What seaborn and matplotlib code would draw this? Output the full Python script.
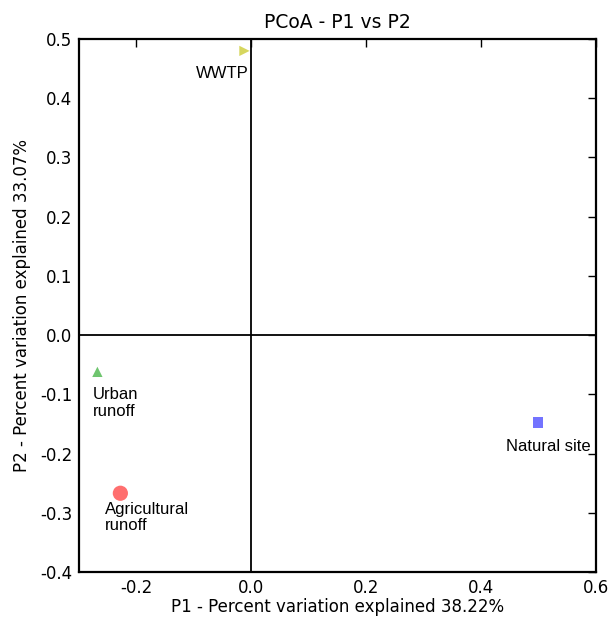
import pandas as pd
import matplotlib
matplotlib.use("Agg")
import matplotlib.pyplot as plt
import seaborn as sns

# Sample coordinates on the first two principal coordinates
sites = ["WWTP", "Urban runoff", "Agricultural runoff", "Natural site"]
labels = ["WWTP", "Urban\nrunoff", "Agricultural\nrunoff", "Natural site"]
p1 = [-0.012, -0.268, -0.228, 0.499]
p2 = [0.480, -0.062, -0.267, -0.147]

x_ticks = [-0.2, 0.0, 0.2, 0.4, 0.6]
y_ticks = [-0.4, -0.3, -0.2, -0.1, 0.0, 0.1, 0.2, 0.3, 0.4, 0.5]

df = pd.DataFrame({"site": sites, "label": labels, "P1": p1, "P2": p2})

# marker styling per site
palette = {"WWTP": "#d2d24c", "Urban runoff": "#5fbf5f",
           "Agricultural runoff": "#ff5f5f", "Natural site": "#6464ff"}
markers = {"WWTP": ">", "Urban runoff": "^",
           "Agricultural runoff": "o", "Natural site": "s"}
sizes = {"WWTP": 55, "Urban runoff": 55,
         "Agricultural runoff": 120, "Natural site": 60}
# label anchor offsets (points) and alignment
offsets = {"WWTP": (3, -11, "right"), "Urban runoff": (-3, -11, "left"),
           "Agricultural runoff": (-11, -6, "left"), "Natural site": (38, -12, "right")}

sns.set_style("white")
plt.rcParams["font.family"] = ["DejaVu Sans"]
plt.rcParams["axes.unicode_minus"] = False
for key in ["text.color", "axes.labelcolor", "xtick.color", "ytick.color"]:
    plt.rcParams[key] = "black"

fig = plt.figure(figsize=(6.11, 6.2), dpi=100)
ax = fig.add_axes([0.1293, 0.0774, 0.8462, 0.8596])

sns.scatterplot(data=df, x="P1", y="P2", hue="site", style="site", size="site",
                palette=palette, markers=markers, sizes=sizes,
                edgecolor="none", alpha=0.9, legend=False, ax=ax, zorder=3)

ax.axvline(0, color="black", linewidth=1.3, zorder=1)
ax.axhline(0, color="black", linewidth=1.3, zorder=1)

for _, row in df.iterrows():
    dx, dy, ha = offsets[row["site"]]
    ax.annotate(row["label"], (row["P1"], row["P2"]), xytext=(dx, dy),
                textcoords="offset points", ha=ha, va="top",
                fontsize=12, family=["Liberation Sans"], linespacing=1.15)

ax.set_xlim(-0.3, 0.6)
ax.set_ylim(-0.4, 0.5)
ax.set_xticks(x_ticks)
ax.set_yticks(y_ticks)
ax.set_xticklabels([f"{t:.1f}" for t in x_ticks])
ax.set_yticklabels([f"{t:.1f}" for t in y_ticks])
ax.tick_params(direction="in", length=6, width=1, labelsize=12,
               top=True, right=True, pad=5)
for sp in ax.spines.values():
    sp.set_linewidth(1.6)
    sp.set_color("black")

ax.set_title("PCoA - P1 vs P2", fontsize=13.5, pad=8)
ax.set_xlabel("P1 - Percent variation explained 38.22%", fontsize=12, labelpad=1)
ax.set_ylabel("P2 - Percent variation explained 33.07%", fontsize=12, labelpad=6)

fig.savefig("out.png", dpi=100, facecolor="white")
